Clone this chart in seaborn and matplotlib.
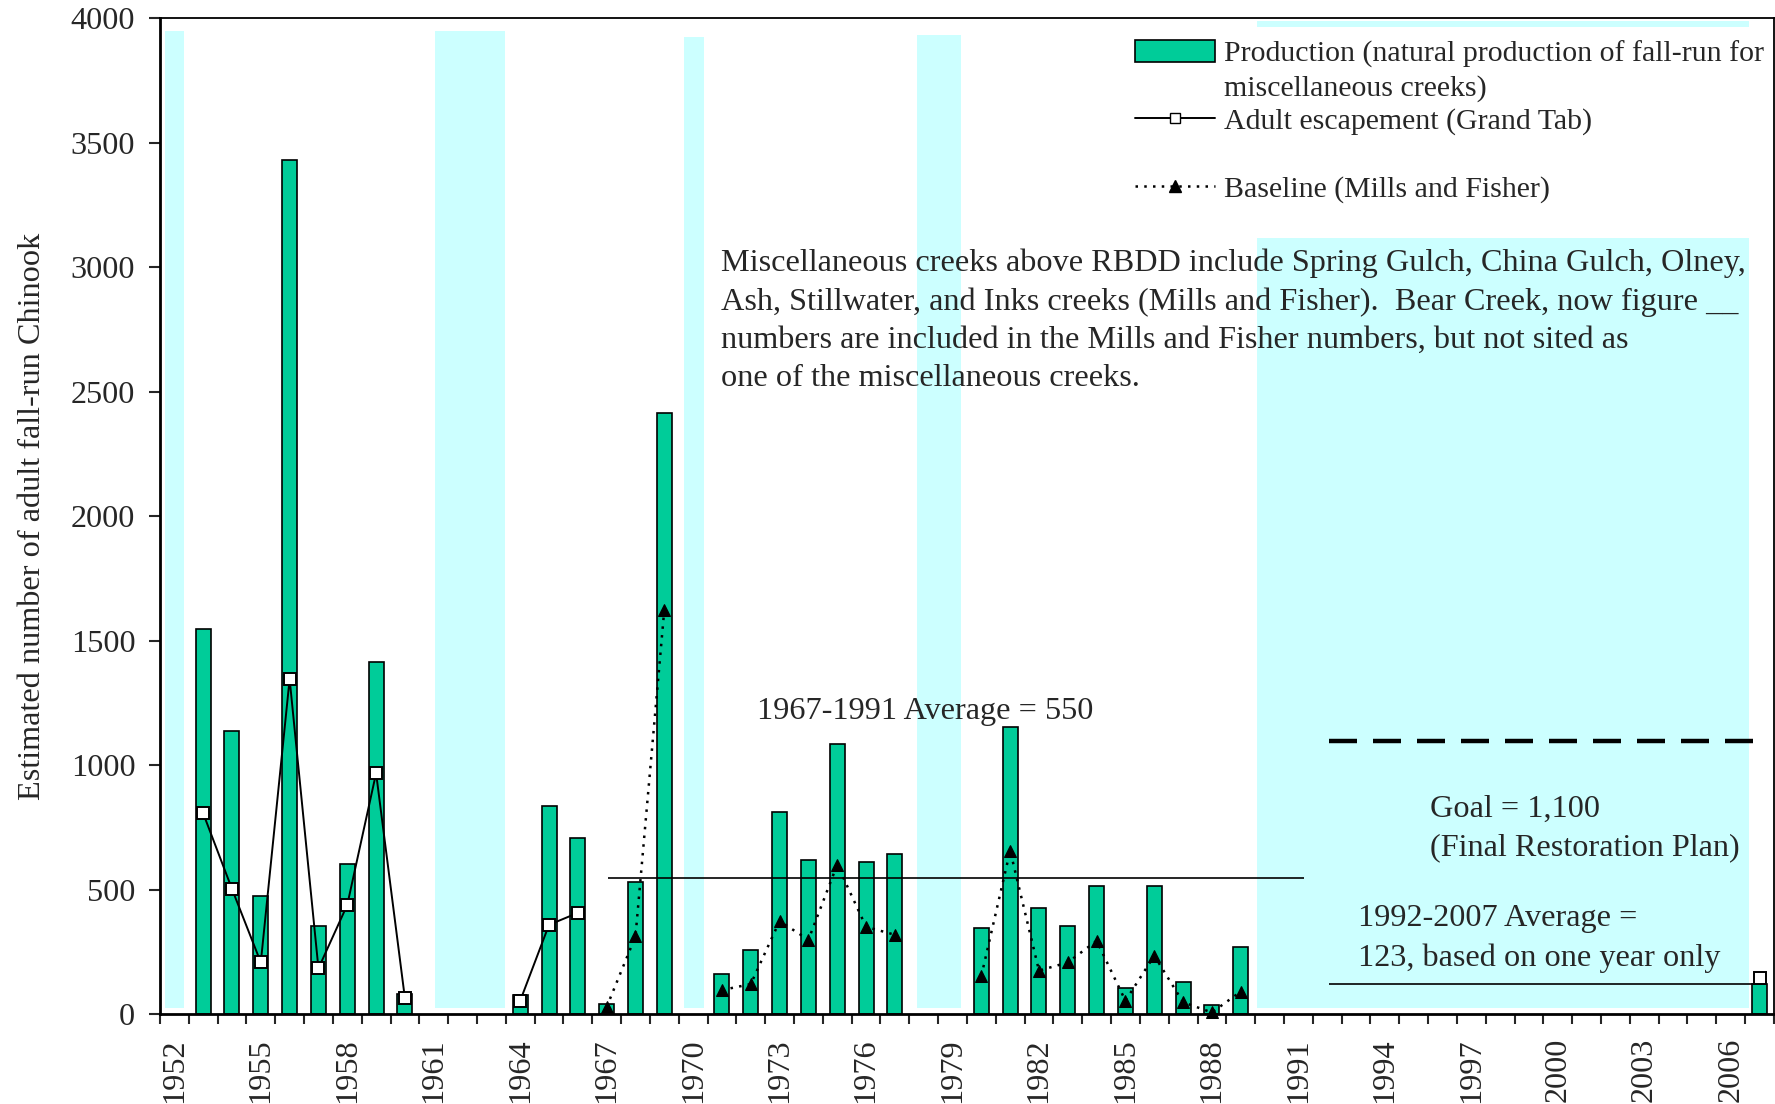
import numpy as np
import pandas as pd
import matplotlib
matplotlib.use("Agg")
import matplotlib.pyplot as plt
from matplotlib.patches import Patch, Rectangle
from matplotlib.lines import Line2D
import seaborn as sns

# Natural production of fall-run, miscellaneous creeks (bars)
prod_years = [1953, 1954, 1955, 1956, 1957, 1958, 1959, 1960,
              1964, 1965, 1966, 1967, 1968, 1969,
              1971, 1972, 1973, 1974, 1975, 1976, 1977,
              1980, 1981, 1982, 1983, 1984, 1985, 1986, 1987, 1988, 1989,
              2007]
prod_values = [1548, 1139, 477, 3432, 356, 604, 1414, 82,
               78, 836, 708, 44, 532, 2416,
               163, 260, 812, 620, 1086, 611, 644,
               347, 1156, 427, 355, 516, 107, 516, 131, 37, 270,
               123]

# Adult escapement (Grand Tab)
esc_years = [1953, 1954, 1955, 1956, 1957, 1958, 1959, 1960, 1964, 1965, 1966, 2007]
esc_values = [808, 504, 209, 1347, 185, 440, 969, 65, 55, 360, 408, 145]

# Baseline (Mills and Fisher)
base_years = [1967, 1968, 1969, 1971, 1972, 1973, 1974, 1975, 1976, 1977,
              1980, 1981, 1982, 1983, 1984, 1985, 1986, 1987, 1988, 1989]
base_values = [30, 314, 1626, 98, 122, 375, 300, 602, 352, 320,
               155, 658, 176, 209, 296, 55, 236, 49, 8, 92]

# shaded (dry) periods, edges in years
dry_start = [1951.67, 1961.03, 1969.67, 1977.76, 1989.57]
dry_end = [1952.35, 1963.46, 1970.37, 1979.29, 2006.65]
dry_top = [3950, 3950, 3925, 3935, 3990]

# period averages and goal
avg_start = [1967, 1992]
avg_end = [1991, 2007]
avg_value = [550, 123]
goal_start, goal_end, goal_value = 1992, 2007, 1100

GREEN = "#00CC99"
CYAN = "#CCFFFF"
FS = 23.2
FS_LEG = 21.5


def runs(years):
    # consecutive years form one connected line segment
    return np.cumsum(np.r_[0, np.diff(years) > 1])


sns.set_style("white")
plt.rcParams["font.family"] = ["Liberation Serif", "DejaVu Serif"]

fig = plt.figure(figsize=(17.75, 11.04), dpi=100)
ax = fig.add_axes([0.0901, 0.0811, 0.9093, 0.9022])

for s, e, top in zip(dry_start, dry_end, dry_top):
    ax.axvspan(s, e, ymin=25 / 4000, ymax=top / 4000,
               color=CYAN, lw=0, zorder=0.5)

sns.barplot(x=prod_years, y=prod_values, native_scale=True, width=0.52,
            color=GREEN, saturation=1, edgecolor="black", linewidth=1.2,
            errorbar=None, ax=ax, zorder=2)

esc = pd.DataFrame({"year": esc_years, "value": esc_values, "run": runs(esc_years)})
sns.lineplot(data=esc, x="year", y="value", units="run", estimator=None,
             color="black", lw=1.4, marker="s", markersize=8,
             markerfacecolor="white", markeredgecolor="black",
             markeredgewidth=1.4, legend=False, ax=ax, zorder=4)

base = pd.DataFrame({"year": base_years, "value": base_values, "run": runs(base_years)})
sns.lineplot(data=base, x="year", y="value", units="run", estimator=None,
             color="black", lw=1.8, linestyle=(0, (1, 2.5)), marker="^",
             markersize=9, markerfacecolor="black", markeredgecolor="black",
             legend=False, ax=ax, zorder=4, clip_on=False)

for s, e, v in zip(avg_start, avg_end, avg_value):
    ax.hlines(v, s + 0.05, e + 0.2, color="black", lw=1.2, zorder=3)
ax.plot([goal_start + 0.05, goal_end - 0.2], [goal_value, goal_value],
        color="black", lw=3.2, dashes=(6.3, 3.6), zorder=3)

# annotations
ax.text(1970.95, 2785,
        "Miscellaneous creeks above RBDD include Spring Gulch, China Gulch, Olney,\n"
        "Ash, Stillwater, and Inks creeks (Mills and Fisher).  Bear Creek, now figure __\n"
        "numbers are included in the Mills and Fisher numbers, but not sited as\n"
        "one of the miscellaneous creeks.",
        fontsize=FS, ha="left", va="center", linespacing=1.42, zorder=5)
ax.text(1972.2, 1218, "1967-1991 Average = 550", fontsize=FS, ha="left", va="center")
ax.text(1995.55, 747, "Goal = 1,100\n(Final Restoration Plan)", fontsize=FS,
        ha="left", va="center", linespacing=1.45)
ax.text(1993.08, 305, "1992-2007 Average =\n123, based on one year only", fontsize=FS,
        ha="left", va="center", linespacing=1.45)

# axes styling
ax.set_xlim(1951.5, 2007.5)
ax.set_ylim(0, 4000)
ax.set_yticks(np.arange(0, 4001, 500))
ax.set_xticks(np.arange(1952, 2007, 3))
ax.set_xticks(np.arange(1951.5, 2008, 1), minor=True)
ax.tick_params(axis="x", which="major", length=0, pad=17, labelsize=FS, labelrotation=90)
ax.tick_params(axis="x", which="minor", length=7.5, width=1.5, direction="out", bottom=True)
ax.tick_params(axis="y", length=7.7, width=1.5, direction="out", pad=10, labelsize=FS, left=True)
ax.set_xlabel("")
ax.set_ylabel("Estimated number of adult fall-run Chinook", fontsize=FS)
ax.yaxis.set_label_coords(-0.070, 0.5)
for side in ["left", "bottom"]:
    ax.spines[side].set_linewidth(2.0)
    ax.spines[side].set_color("black")
for side in ["top", "right"]:
    ax.spines[side].set_linewidth(1.3)
    ax.spines[side].set_color("black")

# legend, on a white panel
ax.add_patch(Rectangle((0.598, 0.7796), 0.398, 0.212, transform=ax.transAxes,
                       facecolor="white", edgecolor="none", zorder=1.5))
h_prod = Patch(facecolor=GREEN, edgecolor="black", linewidth=1.2)
h_blank = Line2D([], [], color="none")
h_esc = Line2D([], [], color="black", lw=1.4, marker="s", markersize=7,
               markerfacecolor="white", markeredgecolor="black")
h_base = Line2D([], [], color="black", lw=1.8, linestyle=(0, (1, 2.5)),
                marker="^", markersize=8)
leg_kw = dict(frameon=False, fontsize=FS_LEG, handlelength=2.7, handleheight=0.75,
              handletextpad=0.3, borderpad=0, borderaxespad=0)
leg1 = ax.legend([h_prod, h_blank, h_esc],
                 ["Production (natural production of fall-run for",
                  "miscellaneous creeks)", "Adult escapement (Grand Tab)"],
                 loc="upper left", bbox_to_anchor=(0.604, 0.978),
                 labelspacing=0.2, **leg_kw)
leg1.set_zorder(6)
ax.add_artist(leg1)
leg2 = ax.legend([h_base], ["Baseline (Mills and Fisher)"], loc="center left",
                 bbox_to_anchor=(0.604, 0.8285), **leg_kw)
leg2.set_zorder(6)

fig.savefig("out.png", dpi=100)
